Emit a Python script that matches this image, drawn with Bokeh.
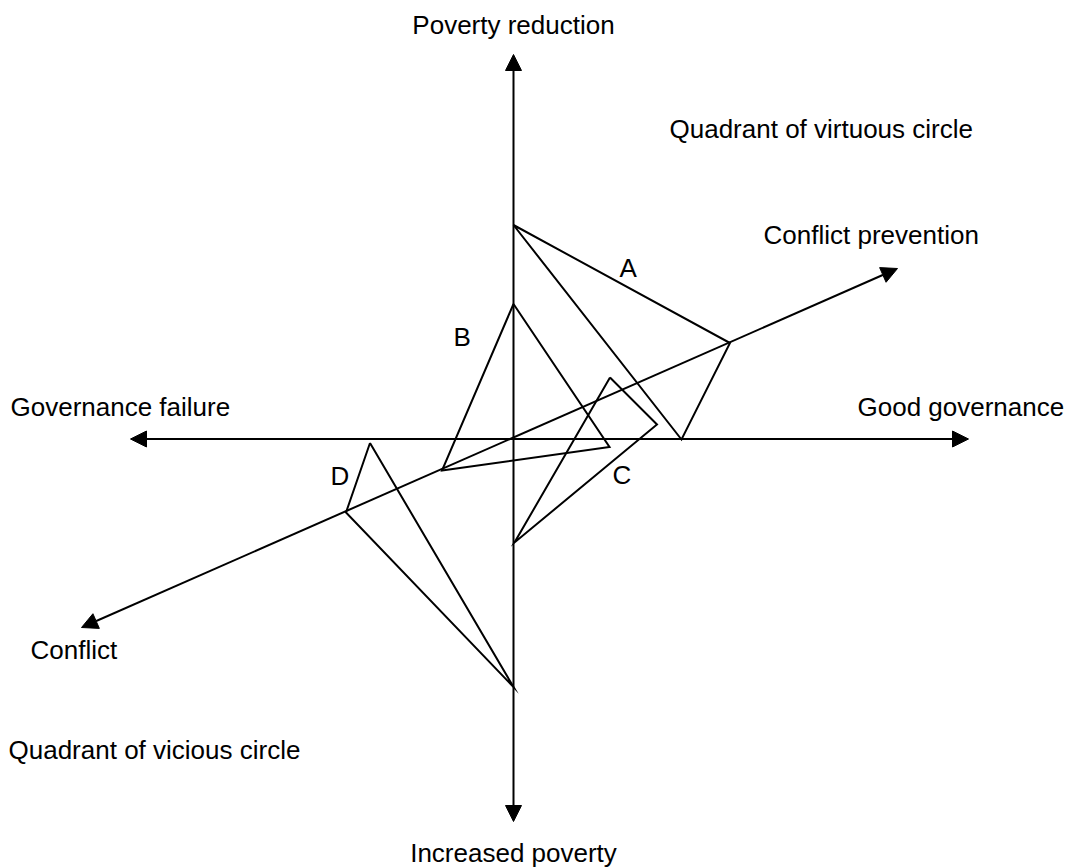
from bokeh.plotting import figure
from bokeh.models import Range1d, Arrow, NormalHead, ColumnDataSource
from bokeh.core.properties import value
from bokeh.embed import file_html
from bokeh.resources import INLINE

# Axis arrows (start x, start y, end x, end y) in diagram units (screen-like, y down)
axis_names = ["poverty", "governance", "conflict"]
axis_x0 = [513, 130, 81]
axis_y0 = [821, 438.5, 627]
axis_x1 = [513, 968, 897]
axis_y1 = [54, 438.5, 268]

# Triangles A-D
tri_names = ["A", "B", "C", "D"]
tri_xs = [[513, 729.5, 681], [513, 609, 441.5], [609.5, 656.5, 514], [369.5, 345.5, 513]]
tri_ys = [[224.5, 342.5, 439], [303.5, 446.5, 470], [377, 424, 542], [442.5, 512, 686.5]]

# Labels (y = vertical centre of the capital letters)
label_text = ["Poverty reduction", "Increased poverty", "Quadrant of virtuous circle",
              "Conflict prevention", "Good governance", "Governance failure",
              "Conflict", "Quadrant of vicious circle", "A", "B", "C", "D"]
label_x = [513, 513, 669, 763, 857, 10, 30, 8, 619, 453, 612, 330]
label_y = [24, 852, 128, 234, 406, 406, 649, 749, 267, 336, 474, 475]
label_align = ["center", "center", "left", "left", "left", "left",
               "left", "left", "left", "left", "left", "left"]

W, H = 1071, 868
p = figure(width=W, height=H, output_backend="svg", toolbar_location=None,
           x_range=Range1d(0, W), y_range=Range1d(H, 0),
           min_border=0, outline_line_color=None)
p.axis.visible = False
p.grid.visible = False
p.background_fill_color = "white"
p.border_fill_color = "white"

for i in range(len(axis_names)):
    arr = Arrow(x_start=axis_x0[i], y_start=axis_y0[i], x_end=axis_x1[i], y_end=axis_y1[i],
                line_color="black", line_width=2,
                end=NormalHead(size=16, fill_color="black", line_color="black", line_width=1),
                start=NormalHead(size=16, fill_color="black", line_color="black", line_width=1))
    p.add_layout(arr)

closed_xs = [xs + [xs[0]] for xs in tri_xs]
closed_ys = [ys + [ys[0]] for ys in tri_ys]
p.multi_line(xs=closed_xs, ys=closed_ys, line_color="black", line_width=2,
             line_join="miter")

src = ColumnDataSource(dict(x=label_x, y=label_y, t=label_text, a=label_align))
p.text(x="x", y="y", text="t", source=src, text_align="a", text_baseline="alphabetic",
       text_font=value("Liberation Sans"), text_font_size="26px", text_color="black")

open("out.html", "w").write(file_html(p, INLINE))
